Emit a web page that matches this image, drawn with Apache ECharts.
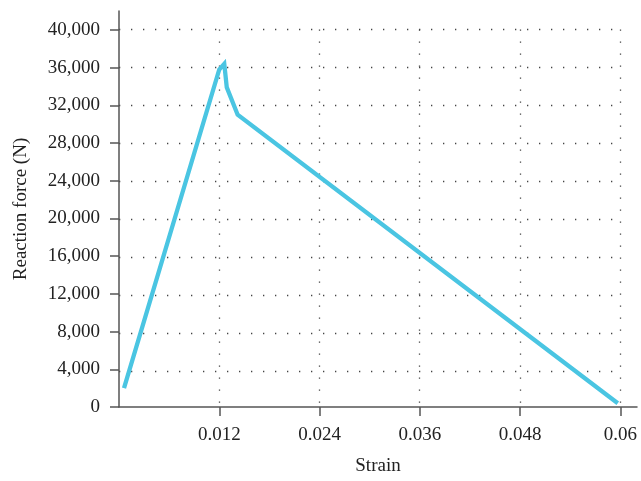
<!DOCTYPE html>
<html>
<head>
<meta charset="utf-8">
<script src="https://cdn.jsdelivr.net/npm/echarts@6/dist/echarts.min.js"></script>
<style>
  html, body { margin: 0; padding: 0; background: #fff; }
  #chart { width: 641px; height: 481px; }
</style>
</head>
<body>
<div id="chart"></div>
<script>
// strain / reaction force
const strain = [0.0006, 0.012, 0.0126, 0.0129, 0.0142, 0.0597];
const force = [2000, 35800, 36400, 33900, 31000, 400];

const xTicks = [0.012, 0.024, 0.036, 0.048, 0.06];
const yTicks = [0, 4000, 8000, 12000, 16000, 20000, 24000, 28000, 32000, 36000, 40000];

const font = 'Liberation Serif';
const textColor = '#222';
const axisColor = '#555';
const gridStyle = { color: '#444', width: 1.3, type: [1.3, 10.7] };

const chart = echarts.init(document.getElementById('chart'));

chart.setOption({
    animation: false,
    grid: [
        // main plot: axes run a little past the last tick
        { left: 119, right: 4, top: 11, bottom: 72 },
        // dotted grid covers exactly 0..0.06 and 0..40000
        { left: 119, right: 21, top: 29.5, bottom: 72 }
    ],
    xAxis: [
        {
            type: 'value',
            gridIndex: 0,
            min: 0,
            max: 0.062,
            name: 'Strain',
            nameLocation: 'middle',
            nameGap: 50,
            nameTextStyle: { fontFamily: font, fontSize: 19, color: textColor },
            axisLine: { lineStyle: { color: axisColor, width: 1.5 } },
            axisTick: { customValues: xTicks, length: 9, lineStyle: { color: axisColor, width: 1.5 } },
            axisLabel: {
                customValues: xTicks,
                margin: 19,
                fontFamily: font, fontSize: 19, color: textColor,
                formatter: v => String(+v.toFixed(3))
            },
            splitLine: { show: false }
        },
        {
            type: 'value',
            gridIndex: 1,
            min: 0,
            max: 0.06,
            interval: 0.012,
            axisLine: { show: false },
            axisTick: { show: false },
            axisLabel: { show: false },
            splitLine: { show: true, showMinLine: false, lineStyle: gridStyle }
        }
    ],
    yAxis: [
        {
            type: 'value',
            gridIndex: 0,
            min: 0,
            max: 42000,
            name: 'Reaction force (N)',
            nameLocation: 'middle',
            nameGap: 88,
            nameTextStyle: { fontFamily: font, fontSize: 19, color: textColor },
            axisLine: { show: true, lineStyle: { color: axisColor, width: 1.5 } },
            axisTick: { show: true, customValues: yTicks, length: 9, lineStyle: { color: axisColor, width: 1.5 } },
            axisLabel: {
                customValues: yTicks,
                margin: 19,
                fontFamily: font, fontSize: 19, color: textColor,
                formatter: v => v.toLocaleString('en-US')
            },
            splitLine: { show: false }
        },
        {
            type: 'value',
            gridIndex: 1,
            min: 0,
            max: 40000,
            interval: 4000,
            axisLine: { show: false },
            axisTick: { show: false },
            axisLabel: { show: false },
            splitLine: { show: true, showMinLine: false, lineStyle: gridStyle }
        }
    ],
    series: [
        {
            type: 'line',
            xAxisIndex: 0,
            yAxisIndex: 0,
            data: strain.map((s, i) => [s, force[i]]),
            showSymbol: false,
            symbol: 'none',
            z: 3,
            lineStyle: { color: '#4ac5e2', width: 4.3, join: 'miter' }
        }
    ]
});
</script>
</body>
</html>
